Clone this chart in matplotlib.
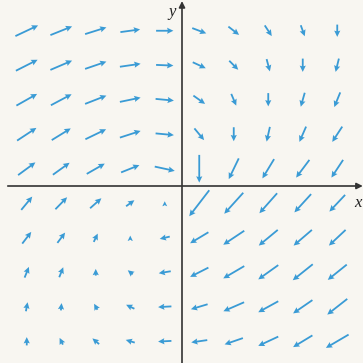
import numpy as np
import matplotlib.pyplot as plt

# grid of sample points (half-integer positions)
xs = [-4.5, -3.5, -2.5, -1.5, -0.5, 0.5, 1.5, 2.5, 3.5, 4.5]
ys = [4.5, 3.5, 2.5, 1.5, 0.5, -0.5, -1.5, -2.5, -3.5, -4.5]

# horizontal components, one row per y value (top to bottom)
u_rows = [
    [22.7, 21.7, 21.3, 19.7, 17.3, 14.0, 10.7, 7.0, 4.0, 0.0],
    [21.7, 21.7, 21.3, 20.7, 17.3, 13.0, 9.0, 3.3, 0.0, -3.3],
    [20.7, 20.7, 21.3, 20.7, 18.3, 11.7, 5.0, 0.0, -4.0, -6.0],
    [19.3, 19.0, 20.7, 20.7, 18.3, 9.7, 0.0, -3.3, -6.7, -10.0],
    [17.3, 16.7, 18.0, 18.3, 20.0, 0.0, -10.0, -11.7, -13.3, -11.7],
    [11.0, 11.7, 11.3, 8.3, 0.0, -20.0, -19.0, -17.7, -16.7, -15.7],
    [9.0, 7.7, 4.0, 0.0, -10.0, -18.3, -21.0, -19.0, -18.3, -16.7],
    [4.3, 4.0, 0.0, -5.0, -12.0, -18.3, -21.0, -20.0, -20.0, -19.0],
    [1.7, 0.7, -3.3, -8.3, -13.3, -16.7, -20.7, -20.0, -19.3, -20.0],
    [0.0, -3.3, -6.7, -9.0, -13.3, -16.0, -18.3, -20.0, -19.3, -22.7],
]

# vertical components
v_rows = [
    [10.7, 8.7, 6.7, 2.7, 0.0, -5.3, -8.3, -10.7, -11.0, -12.3],
    [11.0, 9.3, 7.3, 3.0, -0.7, -6.0, -9.0, -12.3, -13.3, -13.3],
    [11.7, 11.0, 8.3, 4.3, -1.7, -8.3, -11.7, -13.3, -14.0, -14.7],
    [12.7, 11.7, 10.0, 6.7, -1.7, -11.7, -14.0, -14.7, -15.3, -15.3],
    [12.7, 12.0, 10.3, 7.3, -4.3, -27.7, -20.7, -19.3, -17.7, -17.7],
    [13.3, 12.0, 10.0, 6.0, 4.0, -26.0, -21.0, -20.0, -18.3, -16.7],
    [11.7, 10.3, 8.3, 4.3, -2.3, -11.0, -14.0, -15.7, -15.7, -15.7],
    [10.7, 10.0, 6.7, 4.0, -2.0, -9.3, -12.3, -14.3, -16.0, -15.3],
    [9.0, 7.3, 6.0, 4.0, -0.7, -5.0, -9.0, -11.0, -13.3, -15.7],
    [8.3, 6.7, 5.7, 2.7, -0.7, -2.3, -6.3, -9.3, -11.7, -13.3],
]

px_per_unit = 34.5
X, Y = np.meshgrid(xs, ys)
U = np.array(u_rows)
V = np.array(v_rows)

fig = plt.figure(figsize=(3.63, 3.63), dpi=100)
fig.patch.set_facecolor('#f8f6f1')
ax = fig.add_axes([0, 0, 1, 1])
ax.set_facecolor('#f8f6f1')

ax.quiver(X, Y, U, V, angles='xy', scale_units='xy', scale=px_per_unit,
          pivot='middle', color='#3a9bd5', width=0.005,
          headwidth=3.4, headlength=3.5, headaxislength=3.1,
          minshaft=0.8, minlength=0.5)

# coordinate axes
ax.annotate('', xy=(5.24, 0), xytext=(-5.05, 0),
            arrowprops=dict(arrowstyle='-|>', color='#333333', lw=1.2,
                            mutation_scale=9, shrinkA=0, shrinkB=0))
ax.annotate('', xy=(0, 5.36), xytext=(0, -5.3),
            arrowprops=dict(arrowstyle='-|>', color='#333333', lw=1.2,
                            mutation_scale=9, shrinkA=0, shrinkB=0))
ax.text(5.1, -0.5, 'x', fontsize=12, style='italic', family='Liberation Serif',
        ha='center', va='center', color='#222222')
ax.text(-0.28, 5.04, 'y', fontsize=12, style='italic', family='Liberation Serif',
        ha='center', va='center', color='#222222')

ax.set_xlim(-182 / px_per_unit, 181 / px_per_unit)
ax.set_ylim(-177 / px_per_unit, 186 / px_per_unit)
ax.axis('off')

fig.savefig('out.png', dpi=100, facecolor=fig.get_facecolor())
